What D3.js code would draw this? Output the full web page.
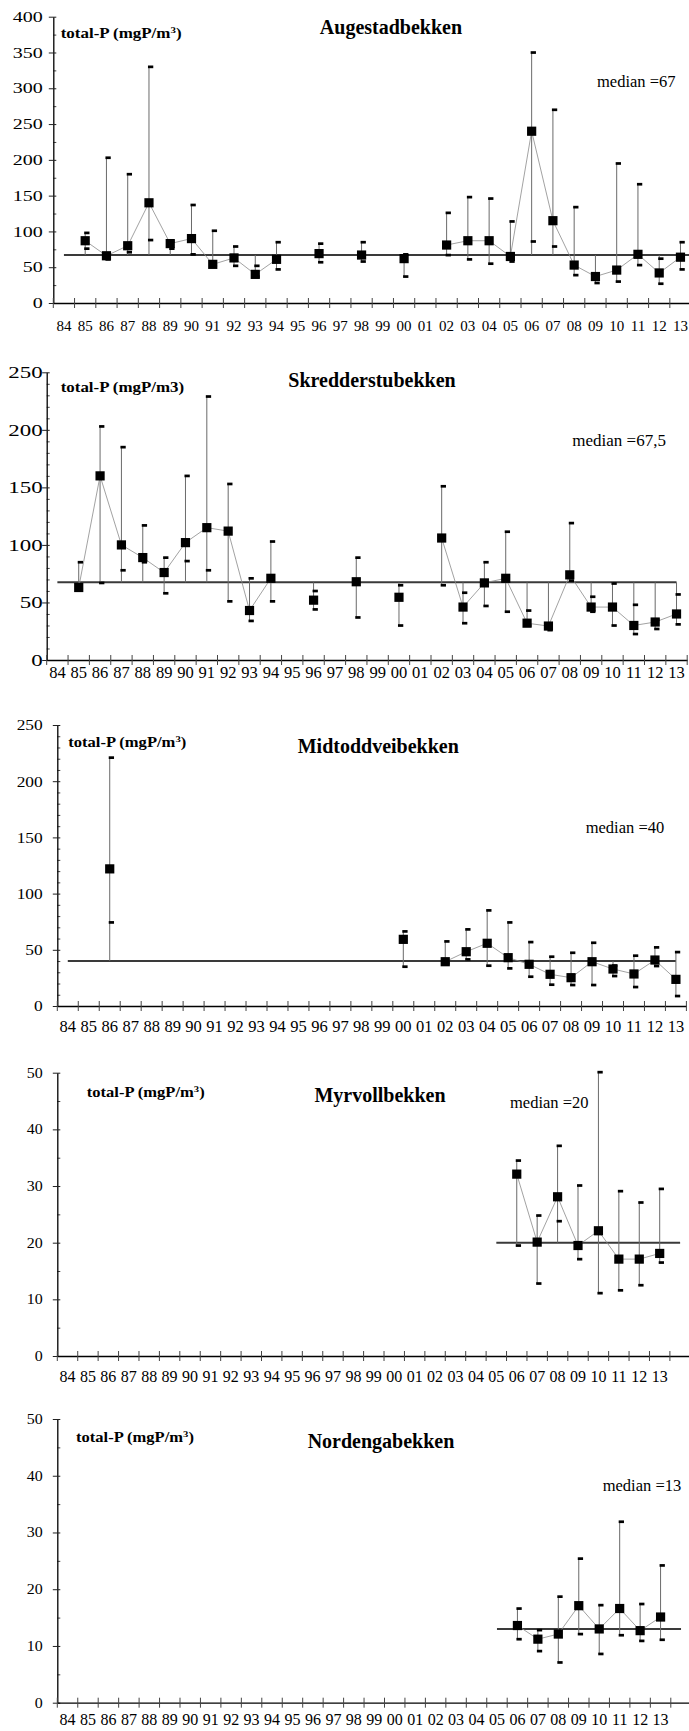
<!DOCTYPE html>
<html>
<head>
<meta charset="utf-8">
<script src="https://cdn.jsdelivr.net/npm/d3@7"></script>
<style>
  html, body { margin: 0; padding: 0; background: #fff; }
  svg { display: block; }
  svg text { font-family: "Liberation Serif", "Times New Roman", serif !important; fill: #000; }
</style>
</head>
<body>
<svg id="chart" width="689" height="1731"></svg>
<script>
// Sampling years (two-digit labels on the x axis)
const years = ["84","85","86","87","88","89","90","91","92","93","94","95","96","97","98","99",
               "00","01","02","03","04","05","06","07","08","09","10","11","12","13"];

// Augestadbekken: yearly mean, maximum and minimum total-P (mgP/m3)
const augestadMean = [null, 87, 66, 80, 140, 83, 90, 54, 63, 40, 61, null, 69, null, 67, null,
                      62, null, 81, 87, 87, 65, 240, 115, 53, 37, 46, 68, 42, 64];
const augestadMax  = [null, 98, 203, 180, 330, 86, 137, 101, 79, 52, 85, null, 83, null, 85, null,
                      68, null, 126, 148, 146, 114, 350, 270, 134, 40, 195, 166, 62, 85];
const augestadMin  = [null, 76, 61, 71, 88, 76, 68, 52, 52, 37, 47, null, 57, null, 58, null,
                      37, null, 67, 61, 55, 58, 86, 79, 39, 28, 30, 53, 27, 47];

// Skredderstubekken
const skredMean = [null, 63, 160, 100, 89, 76, 102, 115, 112, 43, 71, null, 52, null, 68, null,
                   54.5, null, 106, 46, 67, 71, 32, 29.5, 74, 46, 46, 30, 33, 40];
const skredMax  = [null, 85, 203, 185, 117, 89, 160, 229, 153, 71, 103, null, 60, null, 89, null,
                   65, null, 151, 58.5, 85, 111.5, 43, 31, 119, 55, 66.5, 48, 35, 57];
const skredMin  = [null, 62, 67, 78, 85, 58, 86, 78, 51, 34, 51, null, 44, null, 37, null,
                   30, null, 65, 32, 47, 42, 30, 26, 69, 42, 30, 22.6, 27, 31];

// Midtoddveibekken
const midtMean = [null, null, 122, null, null, null, null, null, null, null, null, null, null, null, null, null,
                  59.3, null, 39.4, 48.3, 55.8, 43, 37.1, 28.2, 25.2, 39.4, 32.9, 28.5, 40.9, 23.7];
const midtMax  = [null, null, 221, null, null, null, null, null, null, null, null, null, null, null, null, null,
                  66.4, null, 57.5, 68.2, 85.1, 74.4, 56.9, 43.9, 47.4, 56.3, 36, 44.8, 52.2, 48];
const midtMin  = [null, null, 74.4, null, null, null, null, null, null, null, null, null, null, null, null, null,
                  35, null, 38, 41.5, 35.9, 33.5, 26.1, 19, 18.7, 18.7, 26.7, 16.9, 35.6, 8.9];

// Myrvollbekken
const myrMean = [null, null, null, null, null, null, null, null, null, null, null, null, null, null, null, null,
                 null, null, null, null, null, null, 32.1, 20.1, 28.1, 19.5, 22.1, 17.1, 17.1, 18.1];
const myrMax  = [null, null, null, null, null, null, null, null, null, null, null, null, null, null, null, null,
                 null, null, null, null, null, null, 34.5, 24.8, 37.1, 30.1, 50.1, 29.1, 27.1, 29.5];
const myrMin  = [null, null, null, null, null, null, null, null, null, null, null, null, null, null, null, null,
                 null, null, null, null, null, null, 19.5, 12.8, 23.8, 17.1, 11.1, 11.6, 12.5, 16.5];

// Nordengabekken
const nordMean = [null, null, null, null, null, null, null, null, null, null, null, null, null, null, null, null,
                  null, null, null, null, null, null, 13.6, 11.2, 12.1, 17.1, 13, 16.6, 12.7, 15.1];
const nordMax  = [null, null, null, null, null, null, null, null, null, null, null, null, null, null, null, null,
                  null, null, null, null, null, null, 16.6, 12.8, 18.7, 25.4, 17.2, 31.9, 17.4, 24.2];
const nordMin  = [null, null, null, null, null, null, null, null, null, null, null, null, null, null, null, null,
                  null, null, null, null, null, null, 11.2, 9.1, 7.1, 12.1, 8.6, 11.9, 10.9, 11.1];

// Long-term medians and their labels
const medians      = [67, 67.5, 40, 20, 13];
const medianLabels = ["median =67", "median =67,5", "median =40", "median =20", "median =13"];
const stations     = ["Augestadbekken", "Skredderstubekken", "Midtoddveibekken", "Myrvollbekken", "Nordengabekken"];
const yMaxima      = [400, 250, 250, 50, 50];
const yMajorSteps  = [50, 50, 50, 10, 10];
const yMinorSteps  = [25, 10, 10, 5, 5];

const series = [
  { mean: augestadMean, max: augestadMax, min: augestadMin, unitSup: true },
  { mean: skredMean,    max: skredMax,    min: skredMin,    unitSup: false },
  { mean: midtMean,     max: midtMax,     min: midtMin,     unitSup: true },
  { mean: myrMean,      max: myrMax,      min: myrMin,      unitSup: true },
  { mean: nordMean,     max: nordMax,     min: nordMin,     unitSup: true }
];

// Page geometry of each panel
const layouts = [
  { x0: 53.3, bandW: 21.26, nBands: 31, y0: 303,    yTop: 16.7,   ySize: 14.5, yStretch: 1.38, xSize: 15,   xBase: 331,
    medFrom: "84", medTo: "_1", titleX: 391,   titleY: 34,     unitX: 60.7, unitY: 37.7,   unitW: 121,
    medX: 597,   medY: 87,     medSize: 16.5 },
  { x0: 46.7, bandW: 21.35, nBands: 30, y0: 660,    yTop: 372.3,  ySize: 17,   yStretch: 1.35, xSize: 16.5, xBase: 677.5,
    medFrom: "84", medTo: "13", titleX: 372,   titleY: 386.7,  unitX: 60.7, unitY: 391.7,  unitW: 123.6,
    medX: 572.3, medY: 445.7,  medSize: 17 },
  { x0: 57.3, bandW: 20.97, nBands: 30, y0: 1006,   yTop: 725,    ySize: 15.5, yStretch: 1.12, xSize: 16.5, xBase: 1031.5,
    medFrom: "84", medTo: "13", titleX: 378.3, titleY: 753.3,  unitX: 68.3, unitY: 746.7,  unitW: 118,
    medX: 585.7, medY: 833.3,  medSize: 16.5 },
  { x0: 57.3, bandW: 20.42, nBands: 31, y0: 1356,   yTop: 1072.7, ySize: 14,   yStretch: 1.14, xSize: 16,   xBase: 1381.5,
    medFrom: "05", medTo: "_1", titleX: 380,   titleY: 1101.7, unitX: 86.7, unitY: 1096.7, unitW: 118,
    medX: 510,   medY: 1108.3, medSize: 16.5 },
  { x0: 57.3, bandW: 20.45, nBands: 31, y0: 1702.7, yTop: 1419,   ySize: 14,   yStretch: 1.14, xSize: 16,   xBase: 1725,
    medFrom: "05", medTo: "_1", titleX: 381,   titleY: 1448.3, unitX: 76,   unitY: 1441.7, unitW: 118,
    medX: 602.7, medY: 1490.7, medSize: 16.5 }
];

const SERIF = '"Liberation Serif", "Times New Roman", serif';

const svg = d3.select("#chart");
svg.append("rect").attr("width", 689).attr("height", 1731).attr("fill", "#fff");

// Horizontal stretch of a text element around its anchor x
function stretchX(sel, s) {
  sel.each(function () {
    const t = d3.select(this);
    const x = +t.attr("x") || 0;
    t.attr("transform", `translate(${x},0) scale(${s},1) translate(${-x},0)`);
  });
}

layouts.forEach((L, p) => {
  const S = series[p];
  const g = svg.append("g");

  const extra = d3.range(L.nBands - years.length).map(i => "_" + (i + 1));
  const slots = years.concat(extra);

  const x = d3.scaleBand().domain(slots)
    .range([L.x0, L.x0 + L.bandW * L.nBands]).paddingInner(0).paddingOuter(0);
  const cx = k => x(k) + x.bandwidth() / 2;

  const y = d3.scaleLinear().domain([0, yMaxima[p]]).range([L.y0, L.yTop]);

  const median = medians[p];
  const medLo = slots.indexOf(L.medFrom), medHi = slots.indexOf(L.medTo);

  // Points of this station
  const pts = years.map((yr, i) => ({
    yr, i, mean: S.mean[i], max: S.max[i], min: S.min[i]
  }));
  const present = pts.filter(d => d.mean != null);

  // Y axis: labelled major ticks crossing the axis line, short minor ticks inside
  const minorVals = d3.range(0, yMaxima[p] + 0.001, yMinorSteps[p])
    .filter(v => Math.abs(v / yMajorSteps[p] - Math.round(v / yMajorSteps[p])) > 1e-6);
  const yMinor = g.append("g").attr("transform", `translate(${L.x0},0)`)
    .call(d3.axisLeft(y).tickValues(minorVals).tickFormat("").tickSize(-3).tickSizeOuter(0));
  yMinor.select(".domain").remove();
  yMinor.selectAll("line").attr("stroke", "#444");

  const yAxis = g.append("g").attr("transform", `translate(${L.x0},0)`)
    .call(d3.axisLeft(y).tickValues(d3.range(0, yMaxima[p] + 0.001, yMajorSteps[p]))
      .tickFormat(d3.format("d")).tickSizeOuter(0));
  yAxis.attr("font-family", null).style("font-family", SERIF);
  yAxis.select(".domain").attr("stroke", "#000").attr("stroke-width", 1.3);
  yAxis.selectAll(".tick line").attr("x1", 3).attr("x2", -4.5).attr("stroke", "#222");
  yAxis.selectAll(".tick text")
    .attr("x", 42.7 - L.x0)
    .style("font-family", SERIF)
    .style("font-size", L.ySize + "px")
    .call(stretchX, L.yStretch);

  // X axis: year labels centred in bands, ticks on band boundaries
  const xAxis = g.append("g").attr("transform", `translate(0,${L.y0})`)
    .call(d3.axisBottom(x).tickValues(years).tickSize(0).tickSizeOuter(0));
  xAxis.attr("font-family", null).style("font-family", SERIF);
  xAxis.select(".domain").attr("stroke", "#000").attr("stroke-width", 1.3);
  xAxis.selectAll(".tick text")
    .attr("y", L.xBase - L.y0).attr("dy", 0)
    .style("font-family", SERIF)
    .style("font-size", L.xSize + "px");

  g.append("g").selectAll("line")
    .data(slots.concat(["__end"]))
    .join("line")
    .attr("x1", d => d === "__end" ? x.range()[1] : x(d))
    .attr("x2", d => d === "__end" ? x.range()[1] : x(d))
    .attr("y1", L.y0 - 5).attr("y2", L.y0 + 5)
    .attr("stroke", "#444").attr("stroke-width", 1);

  // Median reference line
  g.append("line")
    .attr("x1", cx(L.medFrom)).attr("x2", cx(L.medTo))
    .attr("y1", y(median)).attr("y2", y(median))
    .attr("stroke", "#3a3a3a").attr("stroke-width", 2);

  // High-low lines spanning mean, max, min and the median
  const span = d => {
    const vals = [d.mean, d.max, d.min];
    if (d.i >= medLo && d.i <= medHi) vals.push(median);
    return d3.extent(vals);
  };
  g.append("g").selectAll("line")
    .data(present)
    .join("line")
    .attr("x1", d => cx(d.yr)).attr("x2", d => cx(d.yr))
    .attr("y1", d => y(span(d)[1]))
    .attr("y2", d => y(span(d)[0]))
    .attr("stroke", "#6a6a6a").attr("stroke-width", 1);

  // Thin line joining consecutive yearly means
  const line = d3.line()
    .defined(d => d.mean != null)
    .x(d => cx(d.yr)).y(d => y(d.mean));
  g.append("path").datum(pts)
    .attr("d", line)
    .attr("fill", "none").attr("stroke", "#8a8a8a").attr("stroke-width", 0.8);

  // Dash markers for the maximum and minimum
  const dashes = present.flatMap(d => [
    { yr: d.yr, v: d.max }, { yr: d.yr, v: d.min }
  ]).filter(d => d.v != null);
  g.append("g").selectAll("rect")
    .data(dashes)
    .join("rect")
    .attr("x", d => cx(d.yr) - 1).attr("y", d => y(d.v) - 1.3)
    .attr("width", 5.3).attr("height", 2.7)
    .attr("fill", "#000");

  // Square markers for the means
  g.append("g").selectAll("rect")
    .data(present)
    .join("rect")
    .attr("x", d => cx(d.yr) - 4.6).attr("y", d => y(d.mean) - 4.6)
    .attr("width", 9.2).attr("height", 9.2)
    .attr("fill", "#000");

  // Station name
  g.append("text")
    .attr("x", L.titleX).attr("y", L.titleY)
    .attr("text-anchor", "middle")
    .style("font-family", SERIF)
    .attr("font-size", 20).attr("font-weight", "bold")
    .text(stations[p]);

  // Unit label
  const unit = g.append("text")
    .attr("x", L.unitX).attr("y", L.unitY)
    .style("font-family", SERIF)
    .attr("font-size", 14).attr("font-weight", "bold");
  if (S.unitSup) {
    unit.append("tspan").text("total-P (mgP/m");
    unit.append("tspan").attr("dy", -5).attr("font-size", 9).text("3");
    unit.append("tspan").attr("dy", 5).text(")");
  } else {
    unit.text("total-P (mgP/m3)");
  }
  const uw = unit.node().getComputedTextLength();
  unit.call(stretchX, L.unitW / uw);

  // Median label
  g.append("text")
    .attr("x", L.medX).attr("y", L.medY)
    .style("font-family", SERIF)
    .attr("font-size", L.medSize)
    .text(medianLabels[p]);
});
</script>
</body>
</html>
